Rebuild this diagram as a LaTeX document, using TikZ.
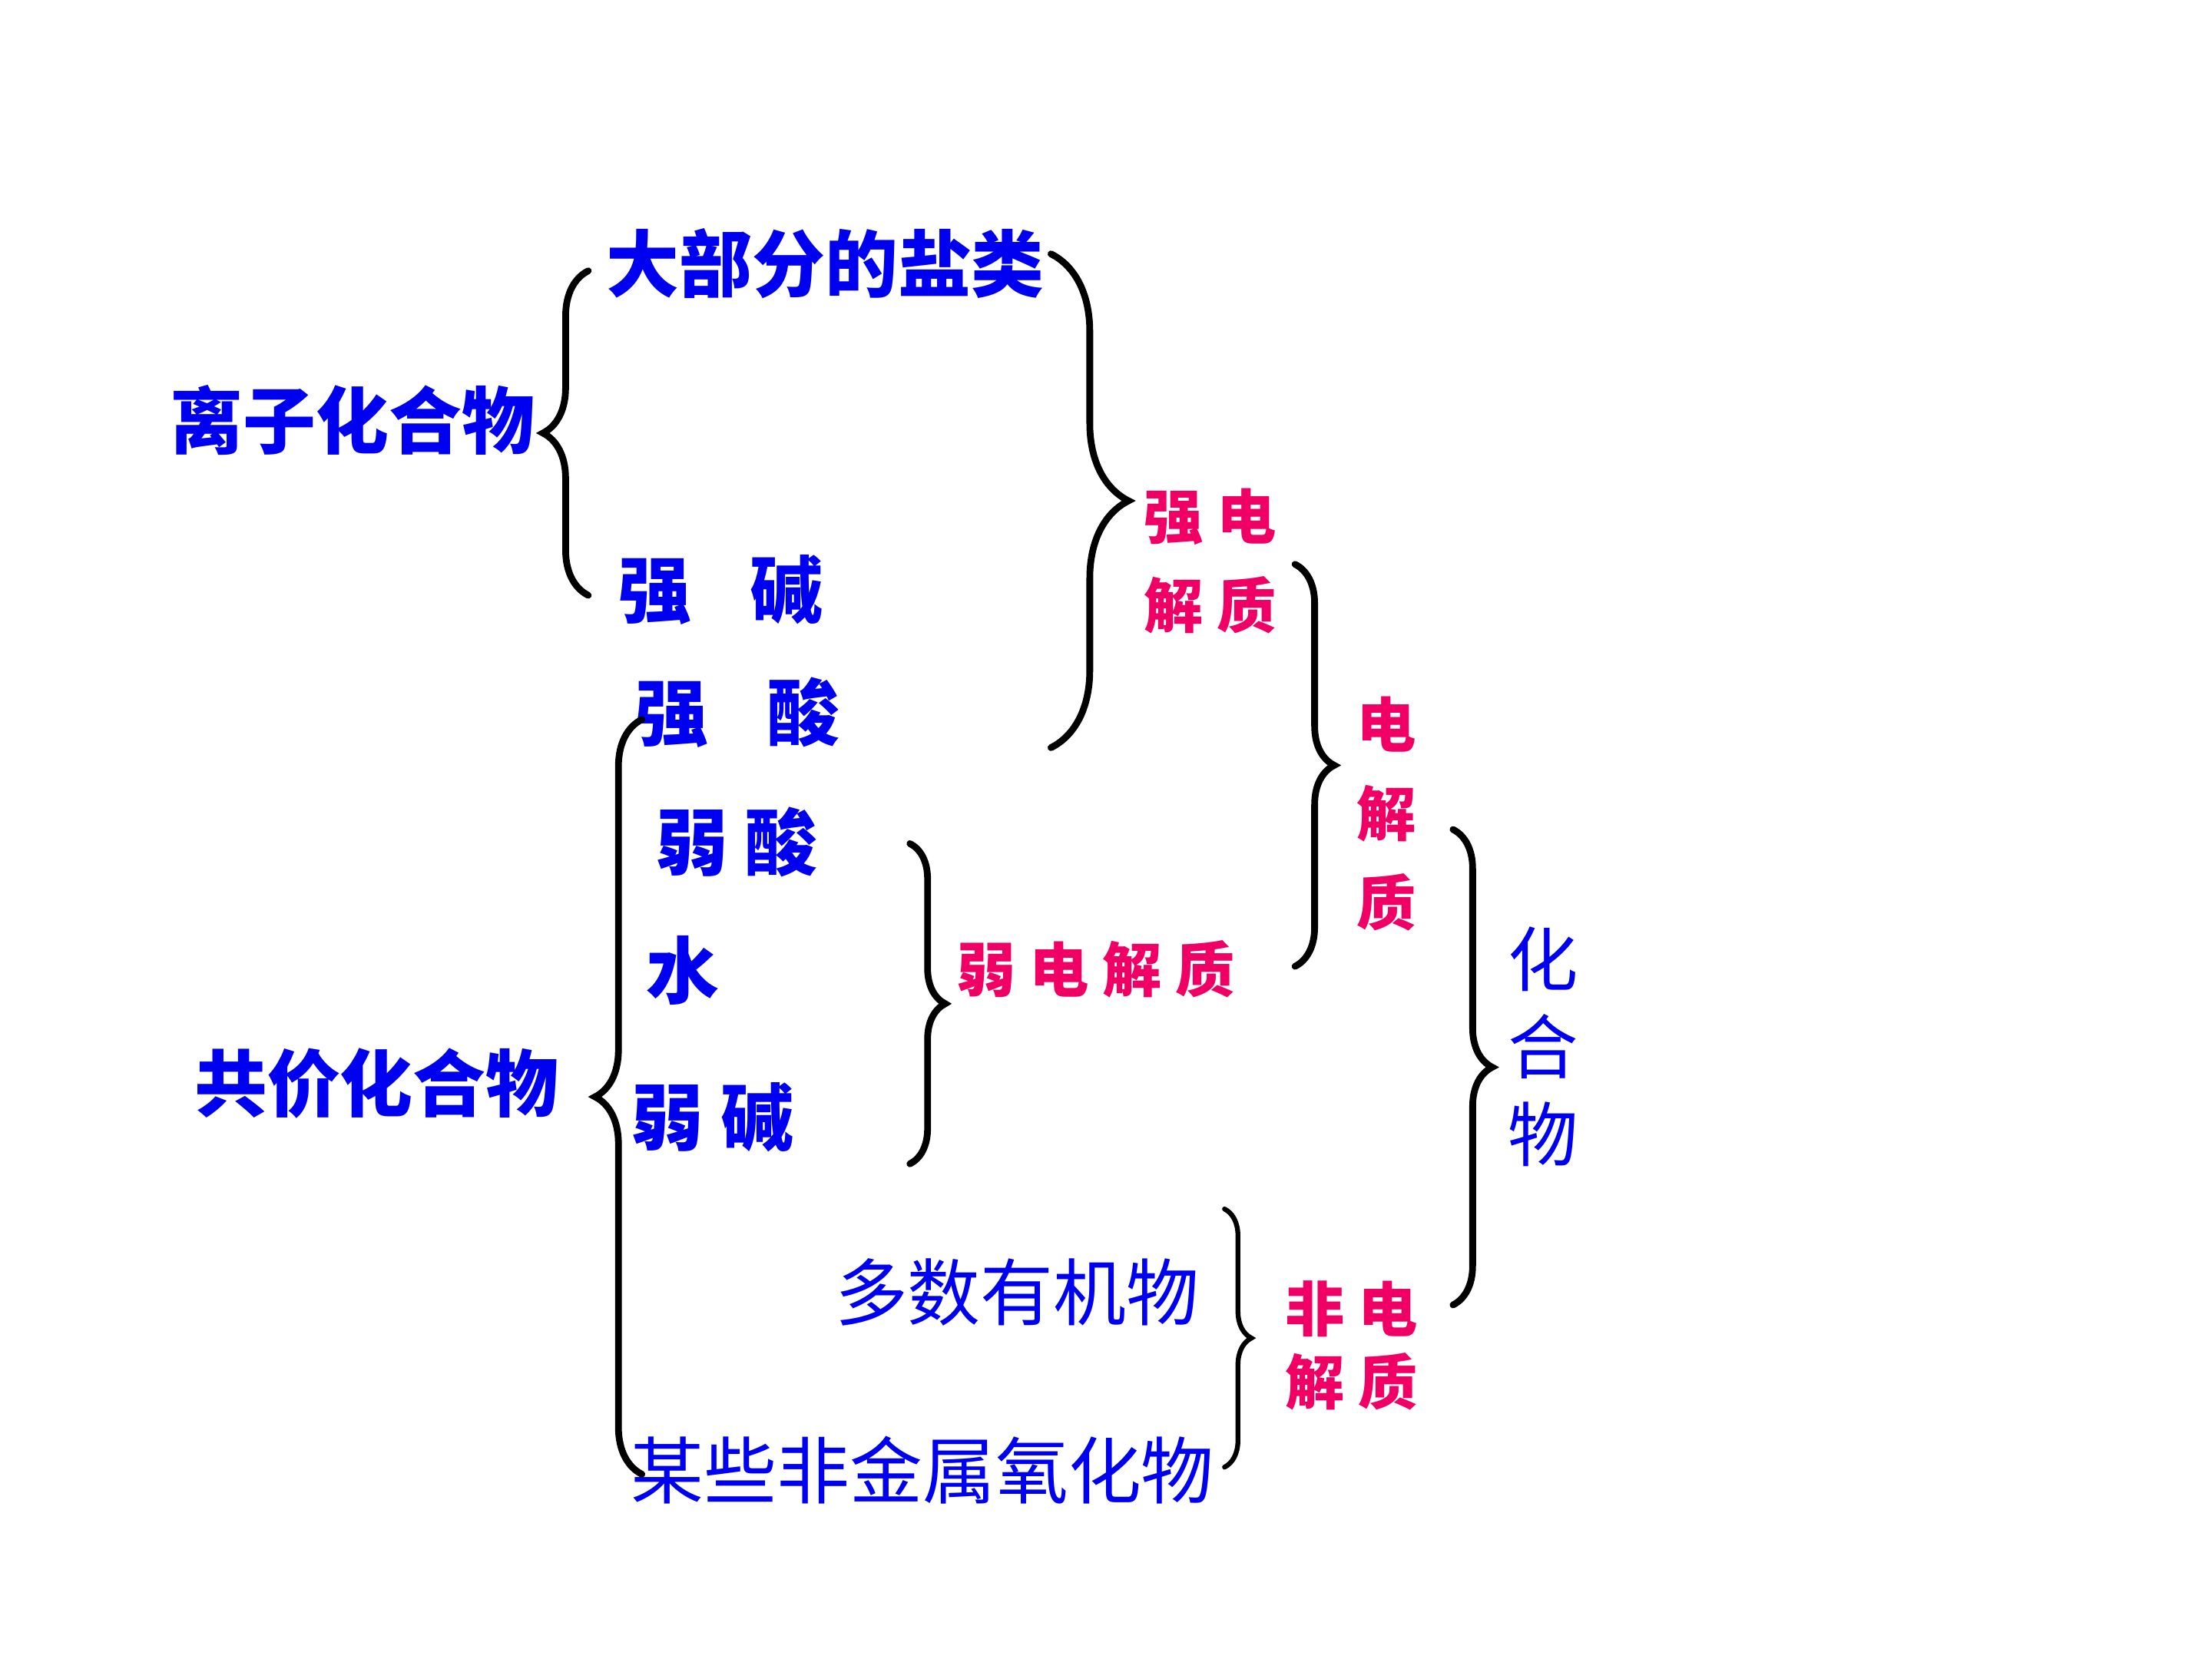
\documentclass[tikz,border=0pt]{standalone}
\usepackage{fontspec}
\newfontfamily\cjk{Noto Sans CJK SC}
\usepackage{xcolor}
\usepackage{tikz}
\usetikzlibrary{decorations.pathreplacing, positioning}

\definecolor{itemblue}{RGB}{0,0,240}
\definecolor{classred}{RGB}{240,0,100}

\begin{document}
\begin{tikzpicture}[
  x=0.18367mm, y=-0.18367mm,
  itembold/.style={text=itemblue, inner sep=0pt, font=\cjk\bfseries\fontsize{27}{32}\selectfont},
  itemplain/.style={text=itemblue, inner sep=0pt, align=center, font=\cjk\fontsize{26}{32.4}\selectfont},
  classtext/.style={text=classred, inner sep=0pt, align=center, font=\cjk\bfseries\fontsize{22}{33}\selectfont},
  brc/.style={decorate, decoration={brace, amplitude=#1}, line width=2.5pt, line cap=round},
]
  \useasboundingbox (0,0) rectangle (1568,1176);

  % left column
  \node[itembold] (ion) at (250,298) {离子化合物};
  \node[itembold] (cov) at (267,768) {共价化合物};

  % substances
  \node[itembold] (salt)  at (585,187) {大部分的盐类};
  \node[itembold] (sbase) at (511,418) {强\hspace{0.8em}碱};
  \node[itembold] (sacid) at (523,505) {强\hspace{0.8em}酸};
  \node[itembold] (wacid) at (522,597) {弱 酸};
  \node[itembold] (water) at (484,688) {水};
  \node[itembold] (wbase) at (505,792) {弱 碱};
  \node[itemplain, font=\cjk\fontsize{27}{32}\selectfont] (org)   at (721,916)  {多数有机物};
  \node[itemplain, font=\cjk\fontsize{27}{32}\selectfont] (oxide) at (654,1042) {某些非金属氧化物};

  % classes
  \node[classtext] (strong) at (858,398) {强 电\\解 质};
  \node[classtext] (weak)   at (777,687) {弱 电 解 质};
  \node[classtext] (elec)   at (983,577) {电\\解\\质};
  \node[classtext, font=\cjk\bfseries\fontsize{22}{27}\selectfont] (non) at (958,954) {非 电\\解 质};
  \node[itemplain] (comp) at (1094,742) {化\\合\\物};

  % brace ends
  \coordinate (ion top) at (417,192);
  \coordinate (ion bot) at (417,422);
  \coordinate (se top)  at (745,180);
  \coordinate (se bot)  at (745,530);
  \coordinate (cov top) at (455,510);
  \coordinate (cov bot) at (455,1045);
  \coordinate (we top)  at (645,598);
  \coordinate (we bot)  at (645,825);
  \coordinate (el top)  at (918,400);
  \coordinate (el bot)  at (918,685);
  \coordinate (ne top)  at (868,857);
  \coordinate (ne bot)  at (868,1040);
  \coordinate (cp top)  at (1030,588);
  \coordinate (cp bot)  at (1030,925);

  \draw[brc=5.9mm]  (ion bot) -- (ion top);
  \draw[brc=6.1mm]  (cov bot) -- (cov top);
  \draw[brc=10.1mm] (se top) -- (se bot);
  \draw[brc=4.6mm]  (we top) -- (we bot);
  \draw[brc=5.1mm]  (el top) -- (el bot);
  \draw[brc=3.5mm, line width=1.8pt] (ne top) -- (ne bot);
  \draw[brc=5.1mm]  (cp top) -- (cp bot);
\end{tikzpicture}
\end{document}
